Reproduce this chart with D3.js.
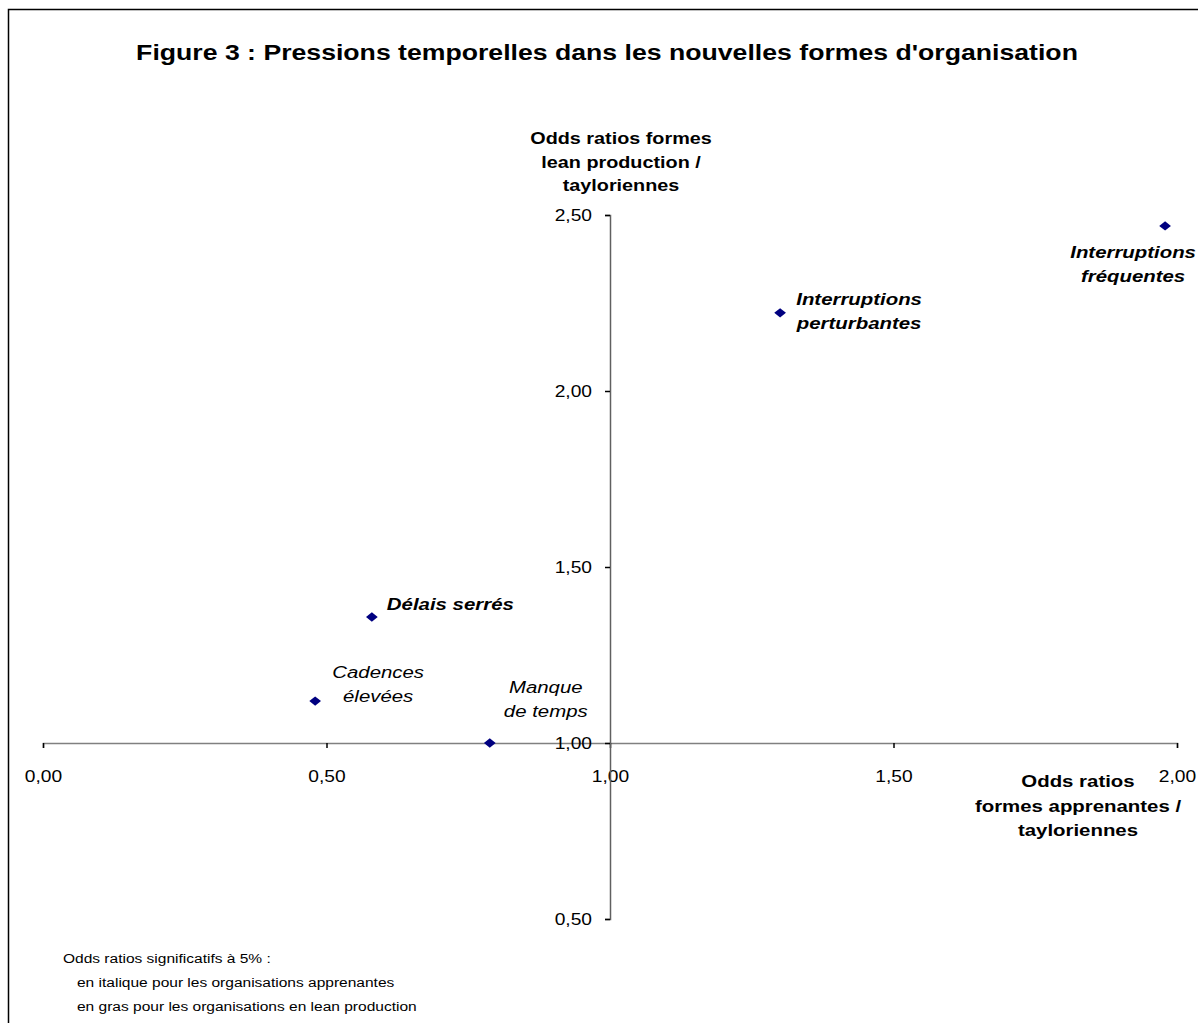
<!DOCTYPE html>
<html>
<head>
<meta charset="utf-8">
<script src="https://cdn.jsdelivr.net/npm/d3@7"></script>
<style>
  html, body { margin: 0; padding: 0; background: #fff; }
  svg { display: block; font-family: Arial, "Liberation Sans", sans-serif; }
</style>
</head>
<body>
<svg id="chart" width="1198" height="1023"></svg>
<script>
// ---- Data ----
const pointNames = [
  ["Interruptions", "fréquentes"],
  ["Interruptions", "perturbantes"],
  ["Délais serrés"],
  ["Cadences", "élevées"],
  ["Manque", "de temps"]
];
const xValues = [1.979, 1.300, 0.580, 0.480, 0.788];   // Odds ratios formes apprenantes / tayloriennes
const yValues = [2.469, 2.222, 1.358, 1.119, 1.000];   // Odds ratios formes lean production / tayloriennes
const significantLean = [true, true, true, false, false];      // bold
const significantLearning = [true, true, true, true, true];    // italic
const xTicks = [0, 0.5, 1, 1.5, 2];
const yTicks = [0.5, 1, 1.5, 2, 2.5];
const titleText = "Figure 3 : Pressions temporelles dans les nouvelles formes d'organisation";
const yTitleLines = ["Odds ratios formes", "lean production /", "tayloriennes"];
const xTitleLines = ["Odds ratios", "formes apprenantes /", "tayloriennes"];
const noteLines = ["Odds ratios significatifs à 5% :", "en italique pour les organisations apprenantes", "en gras pour les organisations en lean production"];

// ---- Layout ----
const SX = 1.2; // horizontal stretch of the original rendering
const svg = d3.select("#chart");
const fmt = v => d3.format(".2f")(v).replace(".", ",");

// stretched text helper
function stext(parent, px, py, str, size, opts = {}) {
  const g = parent.append("g").attr("transform", `translate(${px},${py}) scale(${opts.sx || SX},1)`);
  return g.append("text").attr("x", 0).attr("y", 0)
    .attr("text-anchor", opts.anchor || "start")
    .attr("font-size", size)
    .attr("font-weight", opts.bold ? "bold" : "normal")
    .attr("font-style", opts.italic ? "italic" : "normal")
    .attr("fill", "#000")
    .text(str);
}

// frame
svg.append("rect").attr("x", 8.5).attr("y", 9.5).attr("width", 1195).attr("height", 1030)
  .attr("fill", "none").attr("stroke", "#000").attr("stroke-width", 1.5);

const x = d3.scaleLinear().domain([0, 2]).range([43, 1177]);
const y = d3.scaleLinear().domain([0.5, 2.5]).range([919, 215]);

// title
stext(svg, 607, 60, titleText, 22.2, {bold: true, anchor: "middle"});

// x axis crossing at y = 1
const xAxis = svg.append("g").attr("transform", `translate(0,${y(1)})`)
  .call(d3.axisBottom(x).tickValues(xTicks).tickSize(5).tickPadding(23).tickFormat(fmt));
xAxis.select(".domain").attr("stroke", "#808080").attr("stroke-width", 1.5);
xAxis.selectAll(".tick line").attr("stroke", "#000").attr("stroke-width", 1.5);
xAxis.selectAll(".tick text").attr("font-size", 16).attr("font-family", "Arial, 'Liberation Sans', sans-serif")
  .attr("fill", "#000").attr("transform", `scale(${SX},1)`);

// y axis crossing at x = 1
const yAxis = svg.append("g").attr("transform", `translate(${x(1)},0)`)
  .call(d3.axisLeft(y).tickValues(yTicks).tickSize(5).tickPadding(12).tickFormat(fmt));
yAxis.select(".domain").attr("stroke", "#606060").attr("stroke-width", 1.5);
yAxis.selectAll(".tick line").attr("stroke", "#000").attr("stroke-width", 1.5);
yAxis.selectAll(".tick text").attr("font-size", 16).attr("font-family", "Arial, 'Liberation Sans', sans-serif")
  .attr("fill", "#000").attr("x", -18 / SX).attr("transform", `scale(${SX},1)`);

// axis titles
yTitleLines.forEach((l, i) => stext(svg, 621, 144 + i * 23.5, l, 16.5, {bold: true, anchor: "middle"}));
xTitleLines.forEach((l, i) => stext(svg, 1078, 787 + i * 24.5, l, 17, {bold: true, anchor: "middle"}));

// points
const pts = d3.range(xValues.length).map(i => ({
  x: xValues[i], y: yValues[i], name: pointNames[i], bold: significantLean[i], italic: significantLearning[i]
}));
svg.append("g").selectAll("path").data(pts).join("path")
  .attr("d", d3.symbol(d3.symbolSquare, 44)())
  .attr("transform", d => `translate(${x(d.x)},${y(d.y)}) scale(${SX + 0.05},1) rotate(45)`)
  .attr("fill", "#000080");

// label placement (pixel offsets from the marker)
const labelPlace = [
  {dx: -32, dy: 32, anchor: "middle"},
  {dx: 79, dy: -8, anchor: "middle"},
  {dx: 15, dy: -7, anchor: "start"},
  {dx: 63, dy: -23, anchor: "middle"},
  {dx: 56, dy: -50, anchor: "middle"}
];
const labG = svg.append("g");
pts.forEach((d, i) => {
  const p = labelPlace[i];
  d.name.forEach((l, j) => stext(labG, x(d.x) + p.dx, y(d.y) + p.dy + j * 24, l, 17,
    {bold: d.bold, italic: d.italic, anchor: p.anchor}));
});

// footnote
noteLines.forEach((l, i) => stext(svg, i === 0 ? 63 : 77, 963 + i * 24, l, 13.5, {sx: 1.15}));
</script>
</body>
</html>
